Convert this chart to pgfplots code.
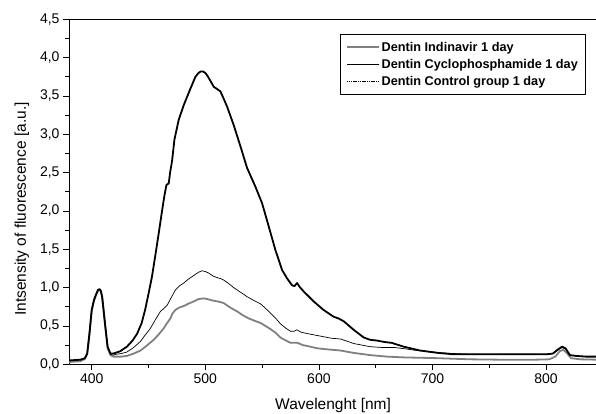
\documentclass[border=0pt]{standalone}
\usepackage{fontspec}
\setmainfont{Liberation Sans}
\setsansfont{Liberation Sans}
\usepackage{pgfplots}
\pgfplotsset{compat=1.18}
\definecolor{indgray}{RGB}{128,128,128}

\begin{document}
\begin{tikzpicture}
\useasboundingbox (0,0) rectangle (596bp,414bp);
\clip (0,0) rectangle (596bp,414bp);
\begin{axis}[
  at={(69bp,49.7bp)}, anchor=south west,
  scale only axis, width=528.2bp, height=345bp,
  xmin=380, xmax=845, ymin=0, ymax=4.5,
  xtick={400,500,600,700,800}, minor x tick num=1,
  ytick={0,0.5,...,4.5}, minor y tick num=1,
  xtick pos=bottom, ytick pos=left,
  tick align=outside,
  major tick length=6bp, minor tick length=3.5bp,
  every tick/.style={black, line width=0.8bp},
  axis line style={line width=0.9bp},
  /pgf/number format/assume math mode=true,
  yticklabel={\pgfmathprintnumber[fixed,fixed zerofill,precision=1,use comma]{\tick}},
  xticklabel={\pgfmathprintnumber[fixed,precision=0,set thousands separator={}]{\tick}},
  tick label style={font=\fontsize{14bp}{16bp}\selectfont},
  xlabel={Wavelenght [nm]},
  ylabel={Intsensity of fluorescence [a.u.]},
  label style={font=\fontsize{15.5bp}{18bp}\selectfont},
  xlabel style={at={(axis description cs:0.5,-0.119)}, anchor=center},
  ylabel style={at={(axis description cs:-0.089,0.45)}, anchor=center, rotate=0},
  legend style={at={(rel axis cs:0.513,0.957)}, anchor=north west,
    draw=black, line width=0.8bp, fill=white,
    font=\fontsize{12.7bp}{15bp}\selectfont\bfseries,
    inner xsep=6bp, inner ysep=6bp, row sep=3.5bp,
    nodes={inner sep=1.5bp}},
  legend cell align=left,
  legend image code/.code={\draw[#1] (0bp,0bp) -- (32bp,0bp);},
  line join=round,
]
\addplot[indgray, line width=1.8bp] coordinates {
(380,0.03)(385,0.035)(390,0.04)(394,0.07)(396,0.13)(398,0.39)(400,0.70)(402,0.83)(403.5,0.89)(405.5,0.96)(407,0.97)(408,0.95)(409.2,0.87)(410.5,0.69)(412,0.48)(414,0.21)(416.5,0.12)(419,0.10)(421,0.10)(426,0.10)(431,0.11)(437,0.14)(443,0.18)(449,0.25)(454.6,0.32)(459,0.39)(463.4,0.47)(466,0.53)(469.3,0.60)(471,0.66)(473.7,0.71)(477,0.74)(481,0.76)(485,0.79)(489.8,0.82)(494,0.85)(498.6,0.86)(502,0.85)(507,0.83)(511,0.82)(516,0.80)(522,0.74)(528,0.69)(533,0.64)(538,0.60)(543,0.57)(548.5,0.54)(553,0.50)(557.3,0.46)(562,0.41)(566,0.35)(571,0.31)(575,0.28)(581,0.28)(586,0.25)(592.5,0.23)(598,0.21)(604,0.20)(611,0.19)(619,0.18)(630,0.15)(645,0.12)(660,0.10)(675,0.09)(704,0.08)(733,0.065)(760,0.06)(790,0.06)(803,0.065)(808,0.10)(812,0.17)(815,0.19)(818,0.15)(822,0.08)(830,0.065)(845,0.06)
};
\addlegendentry{Dentin Indinavir 1 day}
\addplot[black, line width=1.8bp] coordinates {
(380,0.05)(385,0.055)(390,0.06)(394,0.08)(396,0.14)(398,0.40)(400,0.71)(402,0.84)(403.5,0.90)(405.5,0.97)(407,0.98)(408,0.96)(409.2,0.88)(410.5,0.70)(412,0.49)(414,0.23)(416.5,0.14)(419,0.14)(421,0.15)(425,0.17)(431,0.23)(436,0.31)(440,0.40)(444,0.54)(447,0.71)(450,0.92)(453,1.14)(456,1.42)(459,1.71)(462,2.01)(464,2.20)(465.8,2.34)(467.8,2.36)(469,2.50)(470.8,2.66)(472.8,2.93)(476.6,3.19)(481,3.38)(487,3.60)(491.3,3.75)(494,3.80)(496,3.82)(498,3.82)(500,3.80)(502,3.76)(504,3.71)(507.4,3.62)(510.4,3.59)(513.3,3.56)(516,3.47)(519.2,3.36)(525,3.12)(531,2.84)(536.8,2.56)(544,2.32)(550,2.10)(555.8,1.80)(561.7,1.49)(567.6,1.23)(572,1.12)(576.4,1.03)(578.5,1.02)(580.8,1.06)(583,1.01)(586.6,0.95)(595.4,0.82)(604,0.71)(613,0.62)(617,0.60)(622,0.56)(630.6,0.45)(639.4,0.35)(645,0.32)(651,0.31)(658,0.29)(664,0.28)(674.6,0.23)(689,0.18)(704,0.15)(719,0.13)(735,0.13)(754,0.13)(780,0.13)(800,0.13)(806,0.14)(810,0.19)(814,0.23)(817,0.21)(821,0.12)(826,0.11)(835,0.10)(845,0.10)
};
\addlegendentry{Dentin Cyclophosphamide 1 day}
\addplot[black, line width=0.7bp, legend image post style={dash pattern=on 1.2bp off 0.6bp}] coordinates {
(380,0.05)(385,0.055)(390,0.06)(394,0.08)(396,0.14)(398,0.40)(400,0.71)(402,0.84)(403.5,0.90)(405.5,0.97)(407,0.98)(408,0.96)(409.2,0.88)(410.5,0.70)(412,0.49)(414,0.23)(416.5,0.13)(419,0.12)(421,0.13)(426,0.14)(431,0.16)(437,0.22)(443,0.30)(447,0.38)(451.7,0.47)(456,0.58)(460.5,0.69)(463,0.72)(466.4,0.77)(470,0.87)(473.7,0.97)(477,1.02)(481,1.06)(485,1.11)(490,1.16)(494,1.20)(497,1.22)(500,1.21)(503,1.19)(507,1.15)(510.4,1.13)(513,1.12)(516,1.10)(520,1.06)(525,1.00)(531,0.94)(537,0.88)(543,0.83)(548.5,0.79)(553,0.73)(557.3,0.67)(562,0.60)(566,0.53)(571,0.47)(575,0.43)(578,0.43)(580.8,0.45)(584,0.42)(590,0.40)(597,0.38)(604,0.36)(611,0.34)(619,0.33)(625,0.30)(631,0.27)(638,0.25)(645,0.23)(655,0.22)(666,0.22)(677,0.20)(686,0.18)(695,0.17)(707,0.15)(719,0.14)(735,0.13)(754,0.13)(780,0.13)(800,0.13)(806,0.14)(810,0.18)(814,0.22)(817,0.20)(821,0.12)(826,0.11)(835,0.10)(845,0.10)
};
\addlegendentry{Dentin Control group 1 day}
\end{axis}
\end{tikzpicture}
\end{document}
